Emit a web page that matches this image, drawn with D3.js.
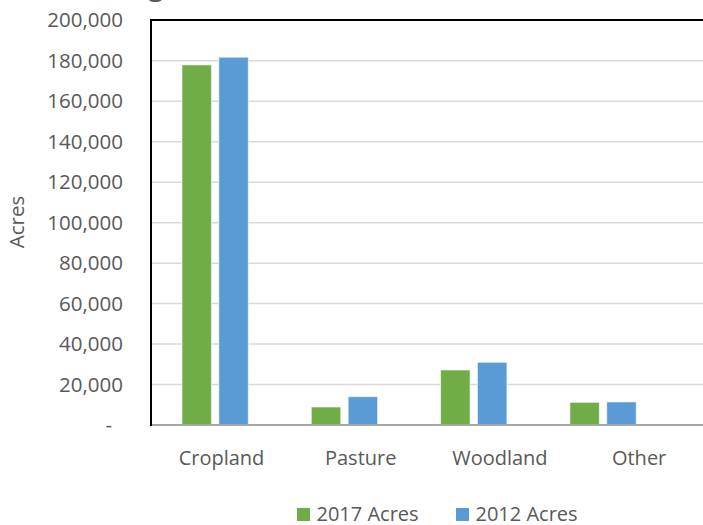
<!DOCTYPE html>
<html>
<head>
<meta charset="utf-8">
<script src="https://cdn.jsdelivr.net/npm/d3@7"></script>
<style>
  html, body { margin: 0; padding: 0; background: #fff; }
  svg { display: block; }
  text { font-family: "Open Sans", sans-serif; fill: #595959; }
</style>
</head>
<body>
<svg id="chart" width="703" height="525"></svg>
<script>
// Land use acreage by category
const categories = ["Cropland", "Pasture", "Woodland", "Other"];
const seriesNames = ["2017 Acres", "2012 Acres"];
const acres2017 = [178000, 8900, 27200, 11200];
const acres2012 = [181800, 14000, 31000, 11400];
const yTicks = [0, 20000, 40000, 60000, 80000, 100000, 120000, 140000, 160000, 180000, 200000];
const seriesColors = ["#70ad47", "#5b9bd5"];
const titleText = "Land Use Change";

const rows = categories.map((c, i) => ({ category: c, values: [acres2017[i], acres2012[i]] }));

const svg = d3.select("#chart");
const W = 703;
const plot = { left: 151, top: 20.4, bottom: 425, right: 667.7 };

// Bar group positions
const x0 = d3.scaleBand()
  .domain(categories)
  .range([150.5, plot.right])
  .paddingInner(0.487)
  .paddingOuter(0.2435);

// Category label positions (axis runs past the right edge)
const xLabel = d3.scaleBand()
  .domain(categories)
  .range([151.9, 708.7]);

const x1 = d3.scaleBand()
  .domain(seriesNames)
  .range([0, x0.bandwidth()])
  .paddingInner(0.2);

const y = d3.scaleLinear()
  .domain([0, 200000])
  .range([plot.bottom, plot.top]);

// Title (sits almost entirely above the visible area)
const title = svg.append("text")
  .attr("x", 0)
  .attr("y", -5)
  .style("font-size", "28px")
  .style("font-weight", "bold")
  .style("fill", "#595959")
  .text(titleText);
{
  const node = title.node();
  const gi = titleText.indexOf("g");
  const gx = node.getStartPositionOfChar(gi).x;
  title.attr("x", 148 - gx);
}

// Gridlines
svg.append("g")
  .selectAll("line")
  .data(yTicks.filter(d => d > 0 && d < 200000))
  .join("line")
  .attr("x1", plot.left)
  .attr("x2", W)
  .attr("y1", d => y(d))
  .attr("y2", d => y(d))
  .attr("stroke", "#d9d9d9")
  .attr("stroke-width", 1.5);

// Y axis labels
const fmt = d3.format(",");
const yAxis = d3.axisLeft(y)
  .tickValues(yTicks)
  .tickSize(0)
  .tickPadding(0)
  .tickFormat(d => d === 0 ? "-" : fmt(d));

const yg = svg.append("g")
  .attr("transform", `translate(123,0)`)
  .call(yAxis);
yg.select(".domain").remove();
yg.selectAll("text")
  .style("font-family", "'Open Sans', sans-serif")
  .style("font-size", "20.5px")
  .attr("fill", "#595959")
  .attr("dx", d => d === 0 ? -11 : 0);

// Bars
const groups = svg.append("g")
  .selectAll("g")
  .data(rows)
  .join("g")
  .attr("transform", d => `translate(${x0(d.category)},0)`);

groups.selectAll("rect")
  .data(d => d.values.map((v, i) => ({ key: seriesNames[i], value: v, i })))
  .join("rect")
  .attr("x", d => x1(d.key))
  .attr("width", x1.bandwidth())
  .attr("y", d => y(d.value))
  .attr("height", d => y(0) - y(d.value))
  .attr("fill", d => seriesColors[d.i])
  .attr("stroke", "rgba(255,255,255,0.6)")
  .attr("stroke-width", 1);

// Plot frame
svg.append("line")
  .attr("x1", plot.left).attr("x2", W)
  .attr("y1", plot.bottom).attr("y2", plot.bottom)
  .attr("stroke", "#a6a6a6").attr("stroke-width", 2);
svg.append("line")
  .attr("x1", plot.left).attr("x2", W)
  .attr("y1", 20).attr("y2", 20)
  .attr("stroke", "#000").attr("stroke-width", 2);
svg.append("line")
  .attr("x1", plot.left).attr("x2", plot.left)
  .attr("y1", 19).attr("y2", plot.bottom + 1)
  .attr("stroke", "#000").attr("stroke-width", 2);

// X axis labels
const xAxis = d3.axisBottom(xLabel).tickSize(0).tickPadding(0);
const xg = svg.append("g")
  .attr("transform", `translate(0,${plot.bottom})`)
  .call(xAxis);
xg.select(".domain").remove();
xg.selectAll("text")
  .style("font-family", "'Open Sans', sans-serif")
  .style("font-size", "20px")
  .attr("fill", "#595959")
  .attr("dy", null)
  .attr("y", 40);

// Y axis title
svg.append("text")
  .attr("transform", "translate(24,222) rotate(-90)")
  .attr("text-anchor", "middle")
  .style("font-size", "20.5px")
  .text("Acres");

// Legend
const legend = svg.append("g")
  .selectAll("g")
  .data(seriesNames)
  .join("g")
  .attr("transform", (d, i) => `translate(${[297, 456][i]},508)`);
legend.append("rect")
  .attr("width", 13)
  .attr("height", 13)
  .attr("fill", (d, i) => seriesColors[i]);
legend.append("text")
  .attr("x", 19.5)
  .attr("y", 12.5)
  .style("font-size", "20px")
  .text(d => d);
</script>
</body>
</html>
